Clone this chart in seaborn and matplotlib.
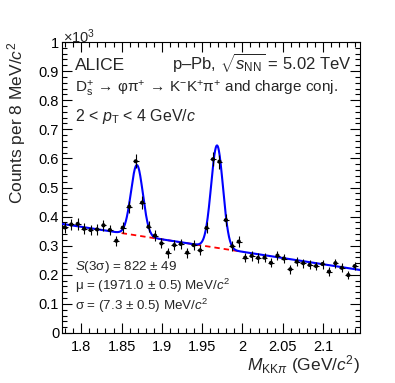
import numpy as np
import pandas as pd
import seaborn as sns
import matplotlib
matplotlib.use("Agg")
import matplotlib.pyplot as plt
from matplotlib.ticker import MultipleLocator

# ---------------- data ----------------
bin_width = 0.008  # GeV/c^2
first_bin_center = 1.7795
counts_k = [0.363, 0.373, 0.375, 0.358, 0.354, 0.356, 0.370, 0.354, 0.317, 0.362,
            0.434, 0.590, 0.448, 0.365, 0.335, 0.308, 0.276, 0.302, 0.306, 0.276,
            0.302, 0.284, 0.361, 0.597, 0.589, 0.388, 0.298, 0.314, 0.259, 0.265,
            0.258, 0.259, 0.241, 0.266, 0.256, 0.219, 0.245, 0.240, 0.234, 0.230,
            0.237, 0.211, 0.240, 0.224, 0.199, 0.230]
x_ticks = [1.8, 1.85, 1.9, 1.95, 2.0, 2.05, 2.1]
x_tick_labels = ["1.8", "1.85", "1.9", "1.95", "2", "2.05", "2.1"]
y_ticks = [0, 0.1, 0.2, 0.3, 0.4, 0.5, 0.6, 0.7, 0.8, 0.9, 1.0]
y_tick_labels = ["0", "0.1", "0.2", "0.3", "0.4", "0.5", "0.6", "0.7", "0.8", "0.9", "1"]

# fit parameters (estimated from the drawn curves)
bkg_ref_mass = 1.776
bkg_at_ref = 0.375
bkg_slope = -0.428
dplus_amp, dplus_mu, dplus_sigma = 0.242, 1.869, 0.0074
ds_amp, ds_mu, ds_sigma = 0.352, 1.9685, 0.0073
bkg_dashed_range = (1.85, 2.0)

mass = first_bin_center + bin_width * np.arange(len(counts_k))
counts = np.array(counts_k)
yerr = np.sqrt(counts * 1000.0) / 1000.0
df = pd.DataFrame({"mass": mass, "counts": counts, "err": yerr})


def background(m):
    return bkg_at_ref + bkg_slope * (m - bkg_ref_mass)


def total(m):
    return (background(m)
            + dplus_amp * np.exp(-0.5 * ((m - dplus_mu) / dplus_sigma) ** 2)
            + ds_amp * np.exp(-0.5 * ((m - ds_mu) / ds_sigma) ** 2))


m_grid = np.linspace(1.776, 2.146, 1200)
fit_df = pd.DataFrame({"m": m_grid, "y": total(m_grid)})
m_bkg = np.linspace(*bkg_dashed_range, 200)
bkg_df = pd.DataFrame({"m": m_bkg, "y": background(m_bkg)})

# ---------------- style ----------------
sns.set_theme(style="ticks")
plt.rcParams["font.family"] = ["Liberation Sans", "DejaVu Sans"]
plt.rcParams["mathtext.fontset"] = "custom"
plt.rcParams["mathtext.rm"] = "Liberation Sans"
plt.rcParams["mathtext.it"] = "Liberation Sans:italic"
plt.rcParams["mathtext.sf"] = "Liberation Sans"
plt.rcParams["mathtext.bf"] = "Liberation Sans:bold"

W, H = 395, 383
fig = plt.figure(figsize=(W / 100, H / 100), dpi=100)
fig.patch.set_facecolor("white")
L, R, T, B = 62, 360, 42, 333
ax = fig.add_axes([L / W, 1 - B / H, (R - L) / W, (B - T) / H])
ax.set_facecolor("white")

sns.lineplot(data=bkg_df, x="m", y="y", ax=ax, color="#ff0000", lw=1.3,
             linestyle=(0, (3, 2.2)), zorder=2)
sns.lineplot(data=fit_df, x="m", y="y", ax=ax, color="#0000ff", lw=1.5, zorder=3)
ax.errorbar(df["mass"], df["counts"], yerr=df["err"], xerr=0.0036, fmt="none",
            ecolor="black", elinewidth=0.8, capsize=0, zorder=4)
sns.scatterplot(data=df, x="mass", y="counts", ax=ax, color="black", s=9,
                edgecolor="none", zorder=5)

ax.set_xlim(1.776, 2.146)
ax.set_ylim(0, 1.0)
ax.set_xticks(x_ticks, x_tick_labels)
ax.set_yticks(y_ticks, y_tick_labels)
ax.xaxis.set_minor_locator(MultipleLocator(0.01))
ax.yaxis.set_minor_locator(MultipleLocator(0.02))
ax.tick_params(which="both", direction="in", top=True, right=True,
               color="black", width=0.8, labelsize=10.5, labelcolor="black")
ax.tick_params(which="major", length=7)
ax.tick_params(which="minor", length=3.5)
ax.tick_params(axis="x", pad=5)
ax.tick_params(axis="y", pad=2)
for s in ax.spines.values():
    s.set_color("black")
    s.set_linewidth(0.8)
ax.set_xlabel("")
ax.set_ylabel("")


def fx(px):
    return px / W


def fy(py):
    return 1 - py / H


fig.text(fx(63), fy(43), r"$\times$10$^{3}$", fontsize=10.5, ha="left", va="baseline")
fig.text(fx(17), fy(42), r"Counts per 8 MeV/$c^{2}$", rotation=90, fontsize=12.5,
         ha="center", va="top")
fig.text(fx(360), fy(370), r"$M_{\mathrm{KK}\pi}$ (GeV/$c^{2}$)", fontsize=12.5,
         ha="right", va="baseline")

fig.text(fx(75), fy(70), "ALICE", fontsize=12.5, ha="left", va="baseline")
fig.text(fx(352), fy(70), r"p–Pb, $\sqrt{s_{\mathrm{NN}}}$ = 5.02 TeV", fontsize=12,
         ha="right", va="baseline")
fig.text(fx(75), fy(93),
         r"$\mathrm{D_{s}^{+}\,\rightarrow\,φπ^{+}\,\rightarrow\,K^{-}K^{+}π^{+}}$ and charge conj.",
         fontsize=11, ha="left", va="baseline")
fig.text(fx(75), fy(121), r"2 < $p_{\mathrm{T}}$ < 4 GeV/$c$", fontsize=11.5,
         ha="left", va="baseline")

fig.text(fx(75), fy(270), r"$S$(3σ) = 822 ± 49", fontsize=9.6, ha="left", va="baseline")
fig.text(fx(75), fy(290), r"μ = (1971.0 ± 0.5) MeV/$c^{2}$", fontsize=9.6,
         ha="left", va="baseline")
fig.text(fx(75), fy(310), r"σ = (7.3 ± 0.5) MeV/$c^{2}$", fontsize=9.6,
         ha="left", va="baseline")

fig.savefig("out.png", dpi=100, facecolor="white")
